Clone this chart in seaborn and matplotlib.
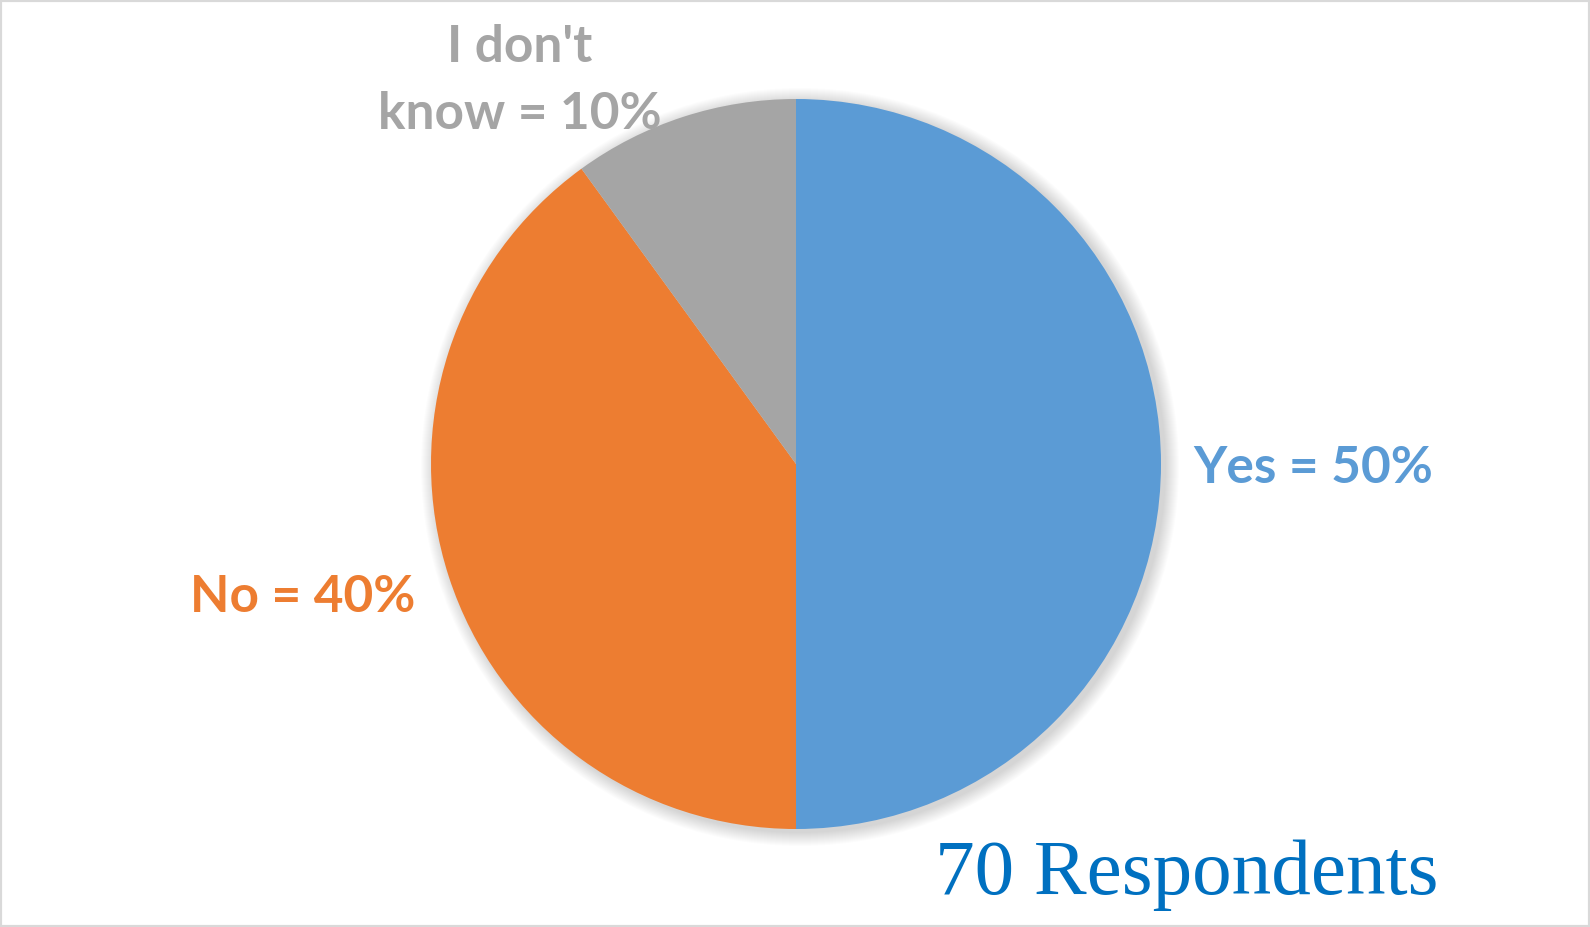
import matplotlib
matplotlib.use("Agg")
import matplotlib.pyplot as plt
import matplotlib.patches as mpatches
import seaborn as sns

# Survey answers
categories = ["Yes", "No", "I don't\nknow"]
shares = [50, 40, 10]
slice_colors = ["#5B9BD5", "#ED7D31", "#A5A5A5"]
respondents = 70

sns.set_theme(style="white")
plt.rcParams["font.family"] = ["Lato", "DejaVu Sans"]

W, H = 1590, 927
fig = plt.figure(figsize=(W / 100, H / 100), dpi=100)
ax = fig.add_axes([0, 0, 1, 1])

cx, cy, r = 796, H - 464, 365

# soft drop shadow under the pie
for i in range(14):
    ax.add_patch(mpatches.Circle((cx + 4, cy - 3), r + 14 - i,
                                 color="black", alpha=0.012, lw=0, zorder=0))

ax.pie(shares, colors=slice_colors, startangle=90, counterclock=False,
       center=(cx, cy), radius=r, frame=True,
       wedgeprops=dict(linewidth=0, zorder=2))
ax.set_xlim(0, W)
ax.set_ylim(0, H)
ax.set_aspect("equal")
ax.axis("off")

label_pos = [(1313, H - 468), (303, H - 598), (520, H - 81)]
for cat, val, col, (x, y) in zip(categories, shares, slice_colors, label_pos):
    ax.text(x, y, f"{cat} = {val}%", color=col, fontsize=37, fontweight="bold",
            ha="center", va="center", linespacing=1.55, zorder=1)

ax.text(1187, H - 875, f"{respondents} Respondents", color="#0070C0",
        fontsize=57, family=["Liberation Serif", "DejaVu Serif"],
        ha="center", va="center")

# thin frame around the chart area
fig.patches.append(mpatches.Rectangle((0, 0), 1, 1, transform=fig.transFigure,
                                      fill=False, edgecolor="#D9D9D9", lw=3))

fig.savefig("out.png", dpi=100)
